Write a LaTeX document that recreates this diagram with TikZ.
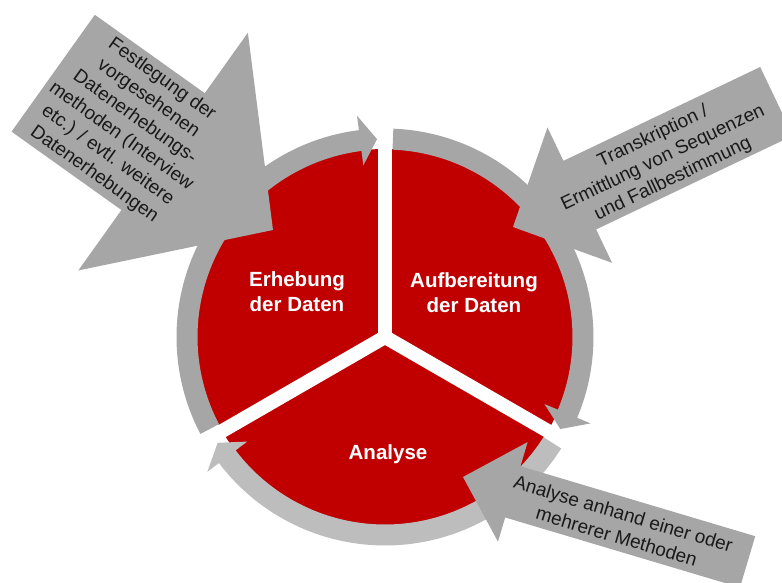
\documentclass[tikz,border=0pt]{standalone}
\usepackage{fontspec}
\setmainfont{Liberation Sans}

\definecolor{vermelho}{HTML}{C00000}
\definecolor{cinza}{HTML}{A6A6A6}
\definecolor{cinzaclaro}{HTML}{BDBDBD}

\begin{document}
\begin{tikzpicture}[x=1pt, y=1pt,
  seta/.style={fill=cinza},
  rotulo/.style={text=white, align=center, font=\fontsize{20.5}{25}\selectfont\bfseries},
  texto/.style={text=black!90, align=center, font=\fontsize{19}{23.3}\selectfont}]

  %--------------------------------------------
  % Moldura (mesmas proporcoes da figura)
  %--------------------------------------------
  \clip (-385,-246) rectangle (397,337);

  \coordinate (meio) at (0,0);

  %--------------------------------------------
  % Disco vermelho e divisores brancos
  %--------------------------------------------
  \fill[vermelho] (meio) circle[radius=188];

  \foreach \a in {90, 210, 330}
    \draw[white, line width=14pt] (meio) -- (\a:222);

  %--------------------------------------------
  % Anel com setas curvas (sentido horario)
  %   \ini -> angulo inicial
  %   \fim -> angulo da ponta
  %--------------------------------------------
  \foreach \ini/\fim/\cor in {207.7/92.3/cinza, 87.7/-27.7/cinza, -32.3/-147.7/cinzaclaro}
  {
    \pgfmathsetmacro\costas{\fim+4.9}
    \fill[\cor]
      (\ini:208.5) arc[start angle=\ini, end angle=\costas, radius=208.5]
      -- (\costas:223) -- (\fim:198) -- (\costas:173)
      -- (\costas:187.5) arc[start angle=\costas, end angle=\ini, radius=187.5]
      -- cycle;
  }

  %--------------------------------------------
  % Setas grandes apontando para o ciclo
  %   (\px,\py) -> ponta, \ang -> direcao
  %   \hl/\hw -> cabeca, \bl/\bw -> corpo
  %--------------------------------------------
  \foreach \px/\py/\ang/\hl/\hw/\bl/\bw in
    {-112/107/-35.5/135/292/135/143.5, 128/110/205.5/74/150/218/76, 78/-140/163.4/52/104/245/53.5}
  {
    \fill[seta, shift={(\px,\py)}, rotate=\ang]
      (0,0) -- (-\hl,\hw/2) -- (-\hl,\bw/2) -- (-\hl-\bl,\bw/2)
      -- (-\hl-\bl,-\bw/2) -- (-\hl,-\bw/2) -- (-\hl,-\hw/2) -- cycle;
  }

  %--------------------------------------------
  % Textos das setas
  %--------------------------------------------
  \node[texto, rotate=-35.5] (festlegung) at (-257,210)
    {Festlegung der\\vorgesehenen\\Datenerhebungs-\\methoden (Interview\\etc.) / evtl. weitere\\Datenerhebungen};
  \node[texto, rotate=25.5] (transkription) at (278,179)
    {Transkription /\\Ermittlung von Sequenzen\\und Fallbestimmung};
  \node[texto, rotate=-16.6] (methoden) at (235,-188)
    {Analyse anhand einer oder\\mehrerer Methoden};

  %--------------------------------------------
  % Fases do ciclo
  %--------------------------------------------
  \node[rotulo] (erhebung) at (-88,45) {Erhebung\\der Daten};
  \node[rotulo] (aufbereitung) at (89,44) {Aufbereitung\\der Daten};
  \node[rotulo] (analyse) at (3,-117) {Analyse};

\end{tikzpicture}
\end{document}
